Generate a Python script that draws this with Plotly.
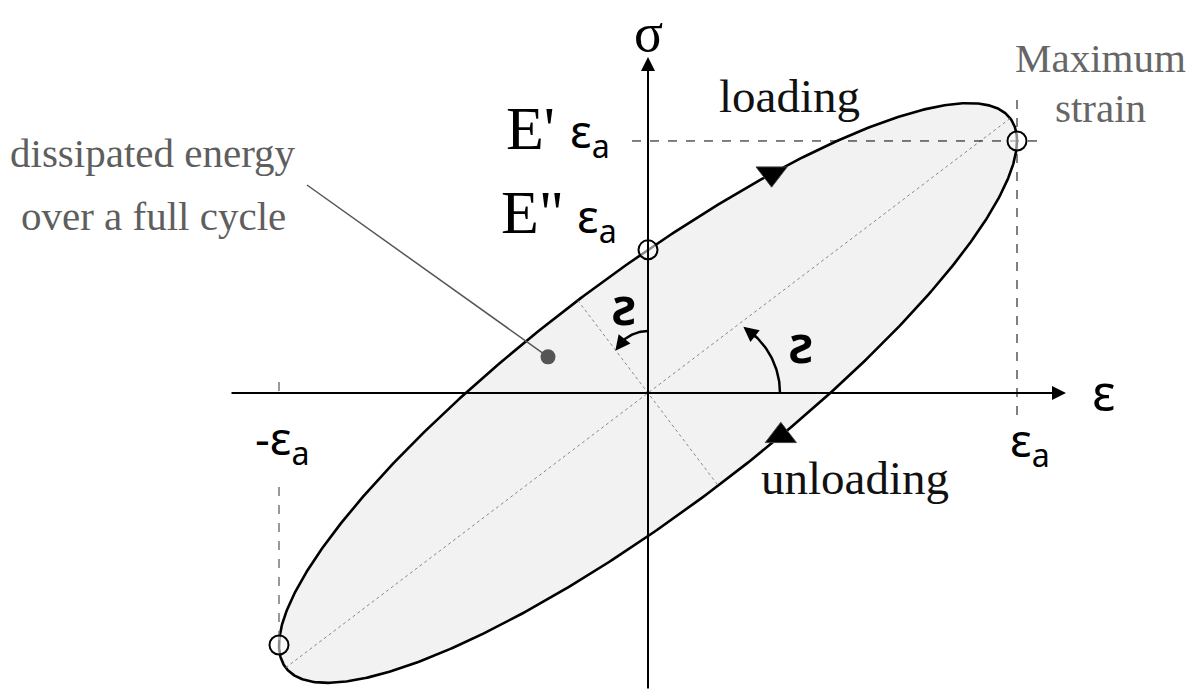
import numpy as np
import plotly.graph_objects as go

# Stress-strain cycle of a viscoelastic material (unit strain amplitude)
eps_a = 1.0                 # strain amplitude
E_storage_eps = 0.683       # E' * eps_a  (stress at maximum strain)
E_loss_eps = 0.388          # E'' * eps_a (stress at zero strain)
key_points_eps = [eps_a, 0.0, -eps_a]
key_points_sig = [E_storage_eps, E_loss_eps, -E_storage_eps]
energy_dot = [-0.271, 0.098]      # marker for the enclosed area
loading_arrow_eps = 0.335
unloading_arrow_eps = 0.36

# derived ellipse: eps = eps_a cos t, sigma = sigma_a cos(t + delta)
sigma_a = np.hypot(E_storage_eps, E_loss_eps)
delta = np.arctan2(E_loss_eps, E_storage_eps)
t = np.linspace(0, 2 * np.pi, 721)
ell_x = eps_a * np.cos(t)
ell_y = sigma_a * np.cos(t + delta)

# principal axes of the ellipse
Sxx, Syy, Sxy = eps_a**2, sigma_a**2, eps_a * sigma_a * np.cos(delta)
theta = 0.5 * np.arctan2(2 * Sxy, Sxx - Syy)
half = (Sxx + Syy) / 2
rad = np.sqrt(((Sxx - Syy) / 2) ** 2 + Sxy**2)
a_major = np.sqrt(half + rad)
a_minor = np.sqrt(half - rad)

S = 369.0   # pixels per unit
OX, OY = 648.0, 393.0
W, H = 1190, 691


def P(px, py):
    """pixel position -> data coordinates"""
    return (px - OX) / S, (OY - py) / S


SERIF = "Liberation Serif"
SANS = "Noto Sans"

fig = go.Figure()

# filled cycle
fig.add_trace(go.Scatter(x=ell_x, y=ell_y, mode="lines", fill="toself",
                         fillcolor="#f2f2f2", line=dict(color="black", width=2.6),
                         hoverinfo="skip"))

# principal axes (dotted)
mx = a_major * np.cos(theta)
my = a_major * np.sin(theta)
fig.add_trace(go.Scatter(x=[-mx, mx], y=[-my, my], mode="lines",
                         line=dict(color="#888", width=1, dash="dot")))
nx = -a_minor * np.sin(theta)
ny = a_minor * np.cos(theta)
fig.add_trace(go.Scatter(x=[nx, -nx], y=[ny, -ny], mode="lines",
                         line=dict(color="#888", width=1, dash="dot")))

# guide lines
x0, _ = P(632, 0)
x1, _ = P(1040, 0)
fig.add_trace(go.Scatter(x=[x0, x1], y=[E_storage_eps] * 2, mode="lines",
                         line=dict(color="black", width=1, dash="dash")))
_, ya = P(0, 100)
_, yb = P(0, 415)
fig.add_trace(go.Scatter(x=[eps_a] * 2, y=[ya, yb], mode="lines",
                         line=dict(color="black", width=1, dash="dash")))
_, yc = P(0, 382)
_, yd = P(0, 400)
fig.add_trace(go.Scatter(x=[-eps_a] * 2, y=[yc, yd], mode="lines",
                         line=dict(color="#777", width=1.5, dash="dash")))
_, ye = P(0, 487)
fig.add_trace(go.Scatter(x=[-eps_a] * 2, y=[ye, -E_storage_eps], mode="lines",
                         line=dict(color="#777", width=1.5, dash="dash")))

# leader line to the dissipated-energy marker
lx, ly = P(307, 185)
fig.add_trace(go.Scatter(x=[lx, energy_dot[0]], y=[ly, energy_dot[1]], mode="lines",
                         line=dict(color="#555", width=1.5)))
fig.add_trace(go.Scatter(x=[energy_dot[0]], y=[energy_dot[1]], mode="markers",
                         marker=dict(color="#555", size=15)))

# angle arcs
ca = P(702, 393)
r1 = 78 / S
ang1 = np.radians(np.linspace(0, 50, 40))
fig.add_trace(go.Scatter(x=ca[0] + r1 * np.cos(ang1), y=ca[1] + r1 * np.sin(ang1),
                         mode="lines", line=dict(color="black", width=2.5)))
cb = P(648, 368)
r2 = 37 / S
ang2 = np.radians(np.linspace(0, 50, 40))
fig.add_trace(go.Scatter(x=cb[0] - r2 * np.sin(ang2), y=cb[1] + r2 * np.cos(ang2),
                         mode="lines", line=dict(color="black", width=2.5)))


# direction triangles on the loading (upper) and unloading (lower) branches
def branch_point(eps, upper):
    tt = -np.arccos(eps / eps_a) if upper else np.arccos(eps / eps_a)
    return eps_a * np.cos(tt), sigma_a * np.cos(tt + delta)


for e, up, sym in [(loading_arrow_eps, True, "triangle-down"),
                   (unloading_arrow_eps, False, "triangle-up")]:
    px_, py_ = branch_point(e, up)
    fig.add_trace(go.Scatter(x=[px_], y=[py_], mode="markers",
                             marker=dict(symbol=sym, size=27, color="black",
                                         line=dict(width=1, color="#444"))))

# key points
fig.add_trace(go.Scatter(x=key_points_eps, y=key_points_sig, mode="markers",
                         marker=dict(size=19, color="rgba(255,255,255,0.55)",
                                     line=dict(color="black", width=2))))

ann = []
# coordinate axes with arrowheads
xt, _ = P(1066, 0)
xs, _ = P(230, 0)
_, yt = P(0, 57)
_, ys = P(0, 690)
ann.append(dict(x=xt, y=0, ax=xs, ay=0, xref="x", yref="y", axref="x", ayref="y",
                showarrow=True, arrowhead=2, arrowsize=1.4, arrowwidth=2, arrowcolor="black", text=""))
ann.append(dict(x=0, y=yt, ax=0, ay=ys, xref="x", yref="y", axref="x", ayref="y",
                showarrow=True, arrowhead=2, arrowsize=1.4, arrowwidth=2, arrowcolor="black", text=""))

# arc arrowheads
tip1 = (ca[0] + r1 * np.cos(np.radians(58)), ca[1] + r1 * np.sin(np.radians(58)))
tail1 = (ca[0] + r1 * np.cos(np.radians(45)), ca[1] + r1 * np.sin(np.radians(45)))
tip2 = (cb[0] - r2 * np.sin(np.radians(62)), cb[1] + r2 * np.cos(np.radians(62)))
tail2 = (cb[0] - r2 * np.sin(np.radians(42)), cb[1] + r2 * np.cos(np.radians(42)))
for tip, tail in [(tip1, tail1), (tip2, tail2)]:
    ann.append(dict(x=tip[0], y=tip[1], ax=tail[0], ay=tail[1], xref="x", yref="y",
                    axref="x", ayref="y", showarrow=True, arrowhead=2, arrowsize=1.2,
                    arrowwidth=2.5, arrowcolor="black", text=""))


def label(px_, py_, text, size, family, color="black", xanchor="center", weight="normal"):
    x_, y_ = P(px_, py_)
    ann.append(dict(x=x_, y=y_, xref="x", yref="y", text=text, showarrow=False,
                    xanchor=xanchor, yanchor="middle",
                    font=dict(size=size, family=family, color=color, weight=weight)))


label(648, 33, "σ", 54, SERIF)
label(1104, 392, "ε", 50, SANS)
label(1030, 442, "ε<sub>a</sub>", 46, SANS)
label(282, 440, "-ε<sub>a</sub>", 46, SANS)
label(530, 128, "E'", 62, SERIF)
label(590, 133, "ε<sub>a</sub>", 46, SANS)
label(532, 212, 'E"', 62, SERIF)
label(597, 218, "ε<sub>a</sub>", 46, SANS)
label(789, 96, "loading", 47, SERIF, "#111")
label(855, 478, "unloading", 47, SERIF, "#111")
label(1100, 58, "Maximum", 41, SERIF, "#666")
label(1100, 108, "strain", 41, SERIF, "#666")
label(153, 153, "dissipated energy", 41, SERIF, "#5e5e5e")
label(153, 216, "over a full cycle", 41, SERIF, "#5e5e5e")
label(624, 304, "ƨ", 52, SANS, weight=600)
label(801, 342, "ƨ", 52, SANS, weight=600)

xr = [(0 - OX) / S, (W - OX) / S]
yr = [(OY - H) / S, OY / S]
fig.update_layout(
    width=W, height=H, margin=dict(l=0, r=0, t=0, b=0),
    paper_bgcolor="white", plot_bgcolor="white", showlegend=False,
    xaxis=dict(range=xr, visible=False, fixedrange=True),
    yaxis=dict(range=yr, visible=False, fixedrange=True),
    annotations=ann,
)
fig.write_html("out.html")
